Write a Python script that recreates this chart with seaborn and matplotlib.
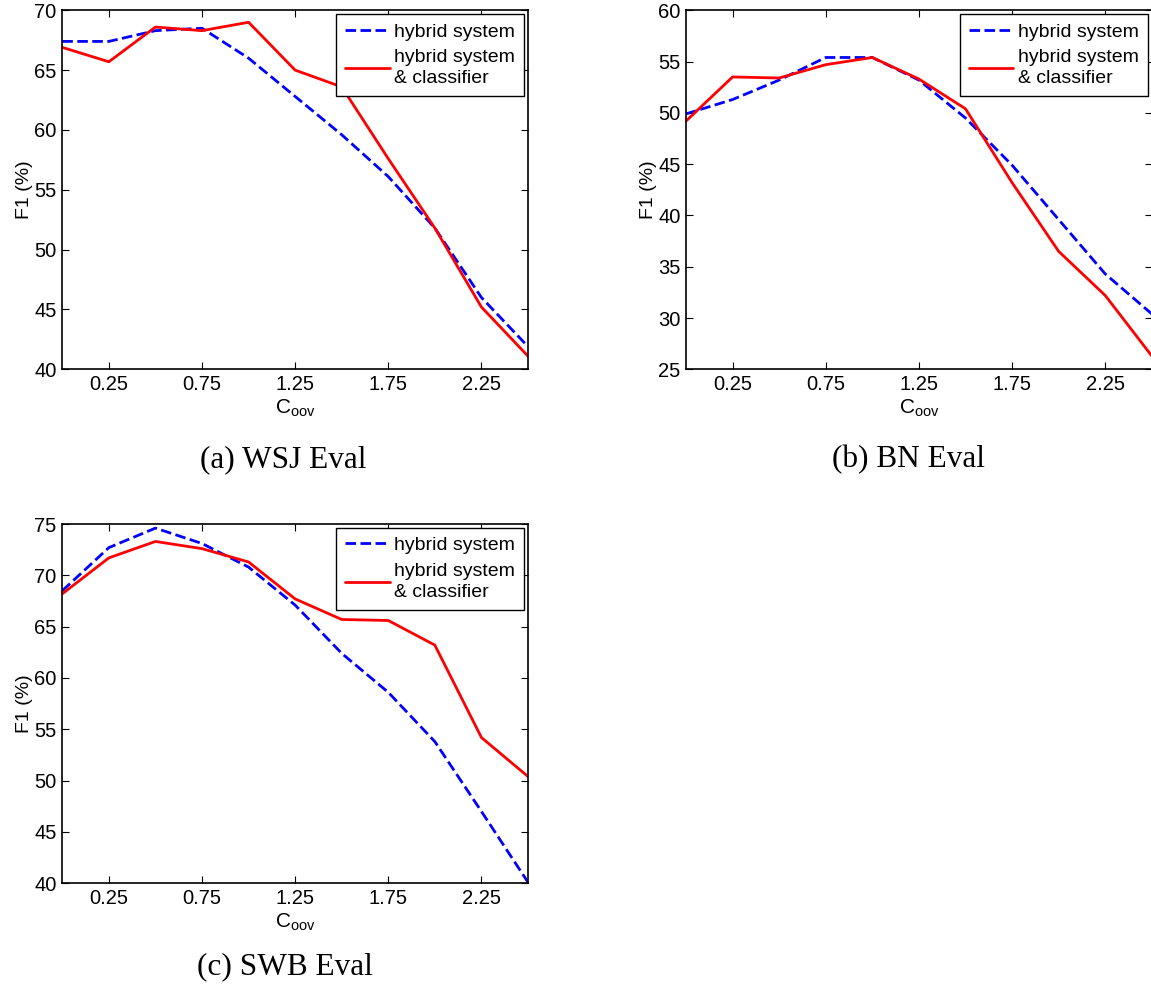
import numpy as np
import pandas as pd
import seaborn as sns
import matplotlib.pyplot as plt

# C_oov values
c_oov = [0, 0.25, 0.5, 0.75, 1.0, 1.25, 1.5, 1.75, 2.0, 2.25, 2.5]

# WSJ eval F1 (%)
wsj_hybrid = [67.4, 67.4, 68.3, 68.5, 66.0, 62.8, 59.6, 56.1, 51.8, 46.0, 41.9]
wsj_classifier = [66.9, 65.7, 68.6, 68.3, 69.0, 65.0, 63.6, 57.6, 51.8, 45.2, 41.1]

# BN eval F1 (%)
bn_hybrid = [49.9, 51.3, 53.2, 55.4, 55.4, 53.2, 49.5, 44.9, 39.6, 34.3, 30.4]
bn_classifier = [49.2, 53.5, 53.4, 54.7, 55.4, 53.3, 50.4, 43.2, 36.5, 32.2, 26.3]

# SWB eval F1 (%)
swb_hybrid = [68.5, 72.7, 74.6, 73.1, 70.8, 67.1, 62.4, 58.6, 53.8, 47.0, 40.1]
swb_classifier = [68.2, 71.7, 73.3, 72.6, 71.3, 67.7, 65.7, 65.6, 63.2, 54.2, 50.4]

xticks = [0.25, 0.75, 1.25, 1.75, 2.25]
legend_labels = ["hybrid system", "hybrid system\n& classifier"]

panels = [
    ("(a) WSJ Eval", wsj_hybrid, wsj_classifier, (40, 70)),
    ("(b) BN Eval", bn_hybrid, bn_classifier, (25, 60)),
    ("(c) SWB Eval", swb_hybrid, swb_classifier, (40, 75)),
]

sns.set_style("ticks")
plt.rcParams['font.family'] = ['Liberation Sans', 'DejaVu Sans']
plt.rcParams['xtick.direction'] = 'in'
plt.rcParams['ytick.direction'] = 'in'
plt.rcParams['xtick.top'] = True
plt.rcParams['ytick.right'] = True
for k in ['text.color', 'axes.labelcolor', 'xtick.color', 'ytick.color']:
    plt.rcParams[k] = 'black'

W, H = 1151, 988
fig = plt.figure(figsize=(W / 100, H / 100), dpi=100)

# axes boxes in pixels: left, top, right, bottom
boxes = [(62.3, 10.3, 528, 369.3), (686, 10.3, 1151.8, 369.3), (62.3, 524, 528, 883.3)]
captions = [(283, 460), (908, 460), (285, 967)]

for (title, hyb, cls, ylim), (l, t, r, b), (cx, cy) in zip(panels, boxes, captions):
    ax = fig.add_axes([l / W, 1 - b / H, (r - l) / W, (b - t) / H])
    df = pd.DataFrame({"c": c_oov, "hyb": hyb, "cls": cls})
    sns.lineplot(data=df, x="c", y="hyb", ax=ax, color="#0000ff", lw=2,
                 label=legend_labels[0])
    ax.lines[-1].set_dashes((3.8, 1.6))
    sns.lineplot(data=df, x="c", y="cls", ax=ax, color="#ff0000", lw=2,
                 label=legend_labels[1])
    ax.set_xlim(0, 2.5)
    ax.set_ylim(*ylim)
    ax.set_xticks(xticks)
    ax.set_xticklabels([f"{v:.2f}" for v in xticks])
    ax.set_yticks(np.arange(ylim[0], ylim[1] + 1, 5))
    ax.tick_params(labelsize=14.5, length=5, width=0.8, pad=4)
    ax.set_xlabel(r"$\mathregular{C_{oov}}$", fontsize=15, labelpad=3)
    ax.set_ylabel("F1 (%)", fontsize=14, labelpad=1)
    for s in ax.spines.values():
        s.set_linewidth(1.2)
        s.set_color("black")
    leg = ax.legend(loc="upper right", fontsize=14, frameon=True, fancybox=False,
                    edgecolor="black", framealpha=1, borderaxespad=0.2,
                    handlelength=2.3, handletextpad=0.25, labelspacing=0.45,
                    borderpad=0.45)
    for txt in leg.get_texts():
        txt.set_linespacing(1.3)
    leg.get_frame().set_linewidth(1.0)
    fig.text(cx / W, 1 - cy / H, title, ha="center", va="center",
             fontsize=22.5, family=["Liberation Serif", "DejaVu Serif"])

fig.savefig("out.png", dpi=100)
